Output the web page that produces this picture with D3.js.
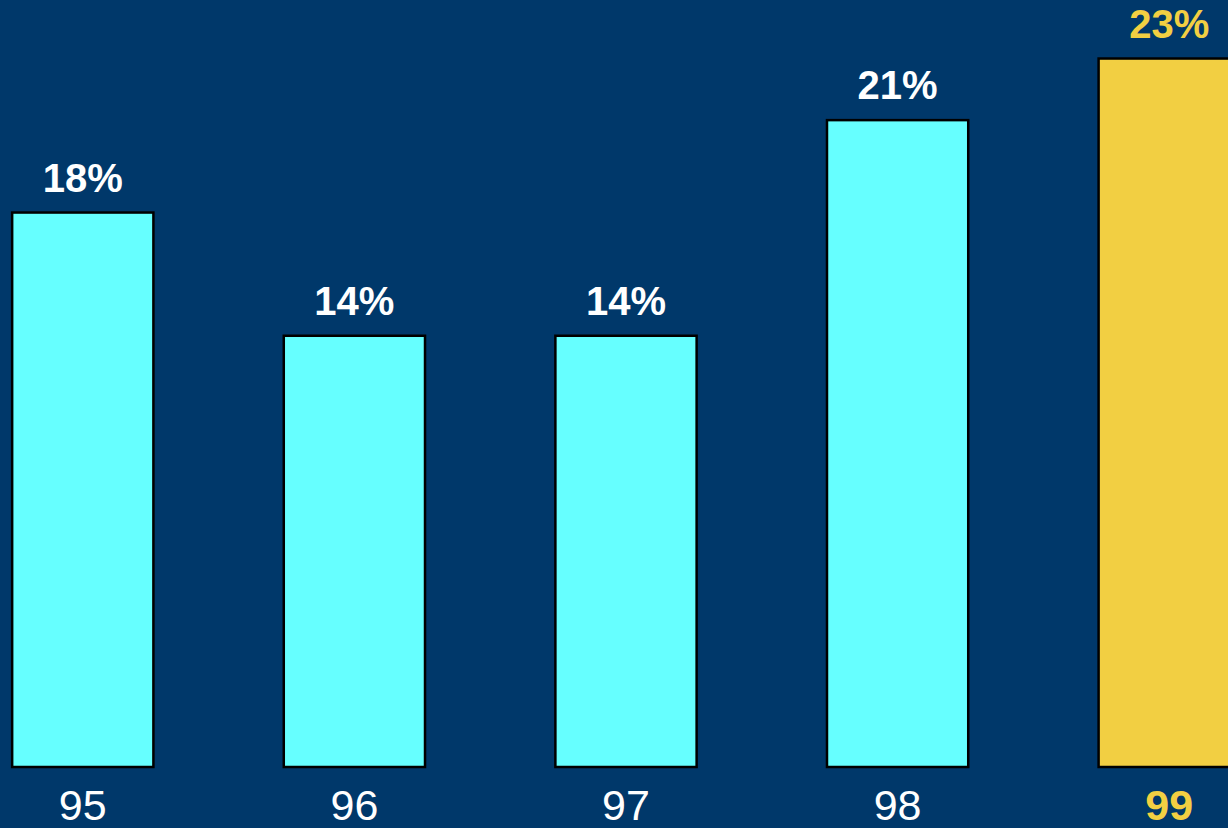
<!DOCTYPE html>
<html>
<head>
<meta charset="utf-8">
<script src="https://cdn.jsdelivr.net/npm/d3@7"></script>
<style>
  html, body { margin: 0; padding: 0; background: #00386A; overflow: hidden; }
  svg { display: block; }
</style>
</head>
<body>
<script>
// Yearly share values, one bar per year
const years = ["95", "96", "97", "98", "99"];
const shares = [18, 14, 14, 21, 23];
const valueLabels = ["18%", "14%", "14%", "21%", "23%"];
const highlightYear = "99";

const W = 1228, H = 828;
const baseline = 767;

const svg = d3.select("body").append("svg")
  .attr("width", W).attr("height", H);

svg.append("rect").attr("width", W).attr("height", H).attr("fill", "#00386A");

const x = d3.scaleBand()
  .domain(years)
  .range([-15, 1267])
  .paddingInner(0.48)
  .paddingOuter(0.1);

const y = d3.scaleLinear()
  .domain([0, 24.9])
  .range([baseline, 0]);

const data = years.map((yr, i) => ({ yr, v: shares[i], label: valueLabels[i] }));
const cyan = "#66FFFF", gold = "#F2CF42";
const fillFor = d => d.yr === highlightYear ? gold : cyan;

svg.selectAll("rect.bar").data(data).join("rect")
  .attr("class", "bar")
  .attr("x", d => x(d.yr))
  .attr("y", d => y(d.v))
  .attr("width", x.bandwidth())
  .attr("height", d => y(0) - y(d.v))
  .attr("fill", fillFor)
  .attr("stroke", "#000")
  .attr("stroke-width", 2.5);

svg.selectAll("text.val").data(data).join("text")
  .attr("class", "val")
  .attr("x", d => x(d.yr) + x.bandwidth() / 2)
  .attr("y", d => y(d.v) - 21)
  .attr("text-anchor", "middle")
  .attr("font-family", "Liberation Sans, Arial, sans-serif")
  .attr("font-weight", "bold")
  .attr("font-size", 40)
  .attr("fill", d => d.yr === highlightYear ? gold : "#FFFFFF")
  .text(d => d.label);

// Year labels along the bottom
const xAxis = d3.axisBottom(x).tickSize(0).tickPadding(0);
const gx = svg.append("g").attr("transform", `translate(0,${baseline})`).call(xAxis);
gx.select(".domain").remove();
gx.selectAll("text")
  .attr("dy", null)
  .attr("y", 53)
  .attr("font-family", "Liberation Sans, Arial, sans-serif")
  .attr("font-size", 43)
  .attr("font-weight", d => d === highlightYear ? "bold" : "normal")
  .attr("fill", d => d === highlightYear ? gold : "#FFFFFF");
</script>
</body>
</html>
